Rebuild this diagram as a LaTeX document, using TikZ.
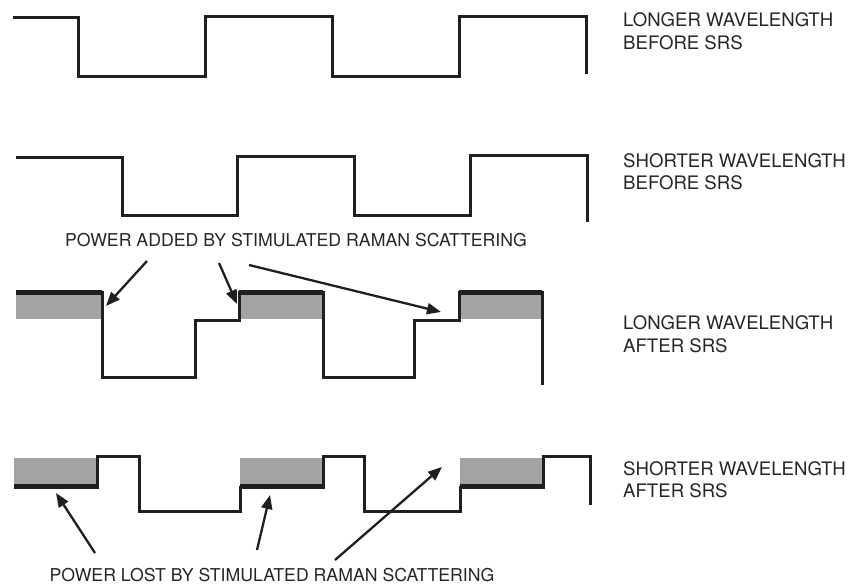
\documentclass[tikz,border=0pt]{standalone}
\usepackage{fontspec}
\setmainfont{TeX Gyre Heros}
\usetikzlibrary{arrows.meta}
\begin{document}
\begin{tikzpicture}[x=1pt,y=-1pt,
  wave/.style={line width=3pt, line join=miter, draw=black!88},
  band/.style={fill=black!36, draw=none},
  edge/.style={line width=4.5pt, draw=black!88},
  lbl/.style={anchor=west, align=left, inner sep=0pt, font=\fontsize{18.6}{22.5}\selectfont, text=black!85},
  note/.style={inner sep=0pt, font=\fontsize{17.7}{22}\selectfont, text=black!85},
  pointer/.style={line width=2.3pt, draw=black!88, -{Triangle[length=14pt,width=11pt]}}]
\useasboundingbox (0,0) rectangle (858,584);

% wave 1: longer wavelength before SRS
\draw[wave] (13,17) -- (78,17) -- (78,76) -- (205,76) -- (205,16) -- (332,16)
  -- (332,76) -- (459,76) -- (459,16) -- (586,16) -- (586,74);
% wave 2: shorter wavelength before SRS
\draw[wave] (16,157) -- (122,157) -- (122,215) -- (237,215) -- (237,156) -- (354,156)
  -- (354,215) -- (470,215) -- (470,155) -- (587,155) -- (587,222);

% wave 3: longer wavelength after SRS
\fill[band] (16,292) rectangle (102,319);
\fill[band] (239,292) rectangle (323,319);
\fill[band] (459,292) rectangle (542,319);
\draw[wave] (16,292) -- (102,292) -- (102,377) -- (195,377) -- (195,320) -- (239,320)
  -- (239,292) -- (323,292) -- (323,377) -- (414,377) -- (414,320) -- (459,320)
  -- (459,292) -- (542,292) -- (542,385);
\draw[edge] (16,292.5) -- (102,292.5);
\draw[edge] (239,292.5) -- (323,292.5);
\draw[edge] (459,292.5) -- (542,292.5);

% wave 4: shorter wavelength after SRS
\fill[band] (14,458) rectangle (97,487);
\fill[band] (240,458) rectangle (323,487);
\fill[band] (460,458) rectangle (543,487);
\draw[wave] (14,487) -- (97,487) -- (97,456) -- (139,456) -- (139,511) -- (240,511)
  -- (240,487) -- (323,487) -- (323,456) -- (364,456) -- (364,511) -- (460,511)
  -- (460,487) -- (543,487) -- (543,456) -- (590,456) -- (590,505);
\draw[edge] (14,486.5) -- (97,486.5);
\draw[edge] (240,486.5) -- (323,486.5);
\draw[edge] (460,486.5) -- (543,486.5);

% labels
\node[lbl] (l1) at (623,31) {LONGER WAVELENGTH\\BEFORE SRS};
\node[lbl] (l2) at (623,171.5) {SHORTER WAVELENGTH\\BEFORE SRS};
\node[lbl] (l3) at (623,334) {LONGER WAVELENGTH\\AFTER SRS};
\node[lbl] (l4) at (623,479.5) {SHORTER WAVELENGTH\\AFTER SRS};
\node[note] (added) at (296,240) {POWER ADDED BY STIMULATED RAMAN SCATTERING};
\node[note] (lost) at (272,575) {POWER LOST BY STIMULATED RAMAN SCATTERING};

% arrows: power added
\coordinate (a1s) at (147,261); \coordinate (a1e) at (106,306);
\coordinate (a2s) at (219,263); \coordinate (a2e) at (237,304);
\coordinate (a3s) at (249,265); \coordinate (a3e) at (441,312);
\draw[pointer] (a1s) -- (a1e);
\draw[pointer] (a2s) -- (a2e);
\draw[pointer] (a3s) -- (a3e);

% arrows: power lost
\coordinate (b1s) at (95,553); \coordinate (b1e) at (56,493);
\coordinate (b2s) at (257,550); \coordinate (b2e) at (270,495);
\coordinate (b3s) at (335,560); \coordinate (b3e) at (442,467);
\draw[pointer] (b1s) -- (b1e);
\draw[pointer] (b2s) -- (b2e);
\draw[pointer] (b3s) -- (b3e);
\end{tikzpicture}
\end{document}
